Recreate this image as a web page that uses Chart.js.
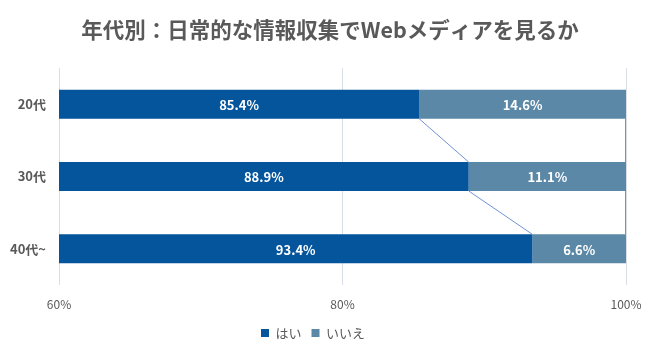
<!DOCTYPE html>
<html>
<head>
<meta charset="utf-8">
<script src="https://cdn.jsdelivr.net/npm/chart.js@4/dist/chart.umd.min.js"></script>
<style>
html,body{margin:0;padding:0;background:#fff;}
#wrap{width:660px;height:356px;position:relative;}
</style>
</head>
<body>
<div id="wrap"><canvas id="c" width="660" height="356"></canvas></div>
<script>
const titleText = '年代別：日常的な情報収集でWebメディアを見るか';
const categories = ['20代', '30代', '40代~'];
const seriesNames = ['はい', 'いいえ'];
const yesValues = [85.4, 88.9, 93.4];
const noValues = [14.6, 11.1, 6.6];
const xTicks = [60, 80, 100];
const colors = ['#05559c', '#5b88a6'];

const FONT = '"Noto Sans CJK JP", "Noto Sans", sans-serif';

const titlePlugin = {
  id: 'centerTitle',
  afterDraw(chart) {
    const ctx = chart.ctx;
    ctx.save();
    ctx.fillStyle = '#595959';
    ctx.font = 'bold 21.5px ' + FONT;
    ctx.textAlign = 'center';
    ctx.textBaseline = 'middle';
    ctx.fillText(titleText, chart.width / 2, 30);
    ctx.restore();
  }
};

const labelsPlugin = {
  id: 'segLabels',
  afterDatasetsDraw(chart) {
    const ctx = chart.ctx;
    const area = chart.chartArea;
    const m0 = chart.getDatasetMeta(0);
    const m1 = chart.getDatasetMeta(1);
    ctx.save();
    ctx.strokeStyle = '#7192d2';
    ctx.lineWidth = 1;
    for (let i = 0; i < m0.data.length - 1; i++) {
      const a = m0.data[i], b = m0.data[i + 1];
      ctx.beginPath();
      ctx.moveTo(a.x, a.y + a.height / 2);
      ctx.lineTo(b.x, b.y - b.height / 2);
      ctx.stroke();
      const c = m1.data[i], d = m1.data[i + 1];
      ctx.beginPath();
      ctx.moveTo(c.x - 0.5, c.y + c.height / 2);
      ctx.lineTo(d.x - 0.5, d.y - d.height / 2);
      ctx.stroke();
    }
    ctx.restore();
    ctx.save();
    ctx.fillStyle = '#ffffff';
    ctx.font = 'bold 13px ' + FONT;
    ctx.textAlign = 'center';
    ctx.textBaseline = 'middle';
    chart.data.datasets.forEach((ds, di) => {
      const meta = chart.getDatasetMeta(di);
      meta.data.forEach((el, i) => {
        const left = Math.max(Math.min(el.x, el.base), area.left);
        const right = Math.max(el.x, el.base);
        ctx.fillText(ds.data[i].toFixed(1) + '%', (left + right) / 2, el.y + 1);
      });
    });
    ctx.restore();
  }
};

new Chart(document.getElementById('c'), {
  type: 'bar',
  data: {
    labels: categories,
    datasets: [
      { label: seriesNames[0], data: yesValues, backgroundColor: colors[0], borderWidth: 0 },
      { label: seriesNames[1], data: noValues, backgroundColor: colors[1], borderWidth: 0 }
    ]
  },
  options: {
    indexAxis: 'y',
    responsive: false,
    animation: false,
    devicePixelRatio: 1,
    categoryPercentage: 1,
    barPercentage: 0.4,
    layout: { padding: { left: 0, right: 34, top: 68, bottom: 6.5 } },
    scales: {
      x: {
        stacked: true,
        min: 60,
        max: 100,
        afterBuildTicks(scale) { scale.ticks = xTicks.map(v => ({ value: v })); },
        afterFit(scale) { scale.height = 31.5; },
        grid: { color: '#d9dde6', drawTicks: false, lineWidth: 1 },
        border: { display: false },
        ticks: {
          padding: 12.5,
          color: '#595959',
          font: { size: 12, family: FONT },
          callback: v => v + '%'
        }
      },
      y: {
        stacked: true,
        afterFit(scale) { scale.width = 59; },
        grid: { display: false, drawTicks: false },
        border: { display: false },
        ticks: {
          padding: 13,
          color: '#595959',
          font: { size: 13, family: FONT, weight: 'bold' }
        }
      }
    },
    plugins: {
      title: { display: false },
      legend: {
        position: 'bottom',
        labels: {
          color: '#595959',
          font: { size: 13, family: FONT },
          boxWidth: 8,
          boxHeight: 8,
          padding: 10
        }
      },
      tooltip: { enabled: false }
    }
  },
  plugins: [labelsPlugin, titlePlugin]
});
</script>
</body>
</html>
